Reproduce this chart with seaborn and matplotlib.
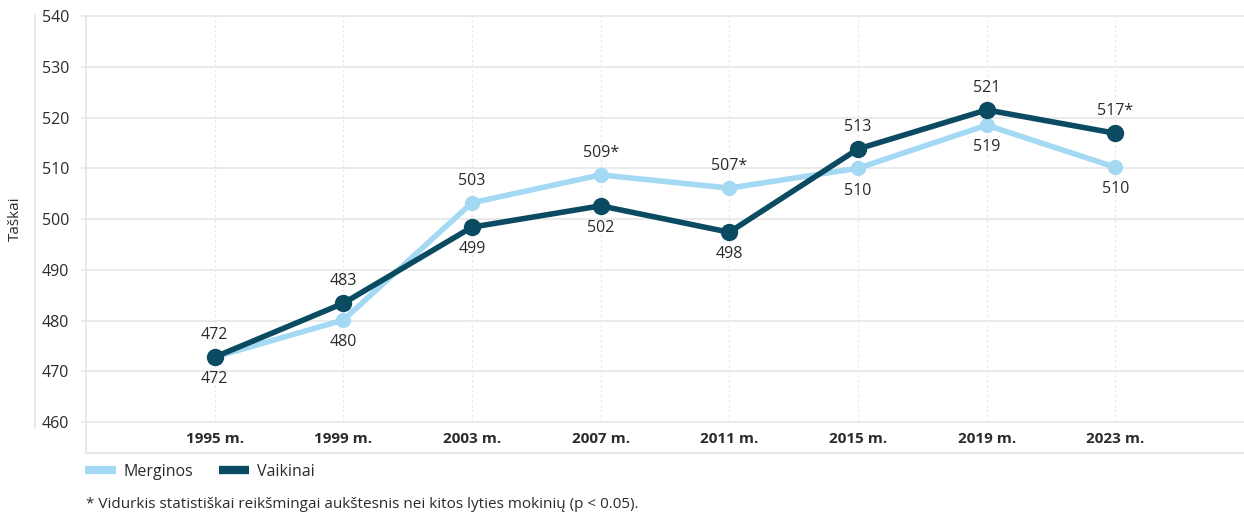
import numpy as np
import pandas as pd
import matplotlib.pyplot as plt
import seaborn as sns
from matplotlib.lines import Line2D

# Data
years = ["1995 m.", "1999 m.", "2003 m.", "2007 m.", "2011 m.", "2015 m.", "2019 m.", "2023 m."]
merginos = [472.8, 480.1, 503.2, 508.7, 506.1, 510.0, 518.5, 510.2]
vaikinai = [472.8, 483.4, 498.4, 502.6, 497.4, 513.8, 521.5, 516.9]
merginos_labels = ["472", "480", "503", "509*", "507*", "510", "519", "510"]
vaikinai_labels = ["472", "483", "499", "502", "498", "513", "521", "517*"]
# +1 = label above the point, -1 = below
merginos_side = [-1, -1, 1, 1, 1, -1, -1, -1]
vaikinai_side = [1, 1, -1, -1, -1, 1, 1, 1]

light = "#a4d9f3"
dark = "#0b4b62"
grid_c = "#e6e6e6"
text_c = "#2b2b2b"

sns.set_theme(style="white")
plt.rcParams['font.family'] = ['Open Sans', 'DejaVu Sans']

idx = np.arange(len(years))
df = pd.DataFrame({
    "x": np.concatenate([idx, idx]),
    "val": merginos + vaikinai,
    "lytis": ["Merginos"] * len(years) + ["Vaikinai"] * len(years),
})

fig = plt.figure(figsize=(12.44, 5.16), dpi=100)
ax = fig.add_axes([0.0691, 0.122, 0.9309, 0.847])

yticks = np.arange(460, 541, 10)
ax.hlines(yticks, -1.04, 8, color=grid_c, lw=1.2, zorder=0, clip_on=False)
ax.vlines(idx, 460, 540, color="#e8e8e8", lw=0.9, ls=(0, (2, 2)), zorder=0)

sns.lineplot(data=df[df.lytis == "Merginos"], x="x", y="val", color=light,
             lw=4, marker="o", markersize=11, markeredgewidth=0, ax=ax,
             sort=False, legend=False, zorder=3)
sns.lineplot(data=df[df.lytis == "Vaikinai"], x="x", y="val", color=dark,
             lw=4, marker="o", markersize=12.5, markeredgewidth=0, ax=ax,
             sort=False, legend=False, zorder=4)

for vals, labs, sides in [(merginos, merginos_labels, merginos_side),
                          (vaikinai, vaikinai_labels, vaikinai_side)]:
    for i, (v, lab, s) in enumerate(zip(vals, labs, sides)):
        ax.annotate(lab, (i, v), xytext=(0, 16 * s), textcoords="offset points",
                    ha="center", va="center", fontsize=11.5, color=text_c)

ax.set_xlim(-1, 8)
ax.set_ylim(453.9, 540)
ax.set_yticks(yticks)
ax.set_yticklabels([str(t) for t in yticks], fontsize=11.5, color=text_c)
ax.set_xticks(idx)
ax.set_xticklabels(years, fontsize=11, fontweight="bold", color=text_c)
ax.tick_params(axis="x", length=0, pad=-15)
ax.tick_params(axis="y", length=0, pad=12)
ax.set_xlabel("")
ax.set_ylabel("")

for side in ["top", "right"]:
    ax.spines[side].set_visible(False)
ax.spines["left"].set_color(grid_c)
ax.spines["left"].set_linewidth(1.2)
ax.spines["bottom"].set_color(grid_c)
ax.spines["bottom"].set_linewidth(1.5)

fig.text(0.012, 1 - 219 / 516, "Taškai", rotation=90, ha="center", va="center",
         fontsize=11, color=text_c)
fig.add_artist(Line2D([35 / 1244, 35 / 1244], [1 - 15 / 516, 1 - 428 / 516],
                      color=grid_c, lw=1.2))

handles = [Line2D([], [], color=light, lw=6, solid_capstyle="butt"),
           Line2D([], [], color=dark, lw=6, solid_capstyle="butt")]
fig.legend(handles, ["Merginos", "Vaikinai"], loc="center left",
           bbox_to_anchor=(0.057, 1 - 472 / 516), ncol=2, frameon=False,
           fontsize=11.5, handlelength=1.9, handletextpad=0.5, columnspacing=1.6,
           labelcolor=text_c)

fig.text(86 / 1244, 1 - 504 / 516,
         "* Vidurkis statistiškai reikšmingai aukštesnis nei kitos lyties mokinių (p < 0.05).",
         ha="left", va="center", fontsize=11, color=text_c)

fig.savefig("out.png", dpi=100)
